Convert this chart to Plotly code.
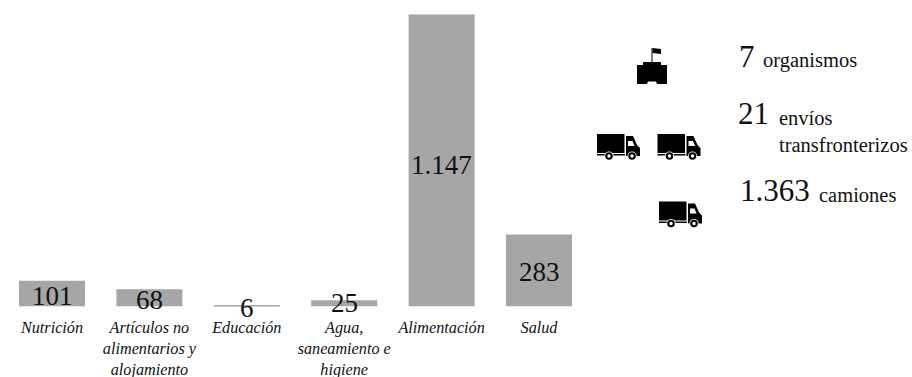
import plotly.graph_objects as go

W, H = 912, 377
BASE_Y = 306.5
PX_PER_UNIT = 0.2546
BAND = 97.4

categories = ["Nutrición", "Artículos no<br>alimentarios y<br>alojamiento", "Educación",
              "Agua,<br>saneamiento e<br>higiene", "Alimentación", "Salud"]
values = [101, 68, 6, 25, 1147, 283]
value_labels = ["101", "68", "6", "25", "1.147", "283"]
label_shift = [-2, -2, -2, 0, -5, -2]

summary_numbers = [("7", 737, 56), ("21", 736, 113), ("1.363", 738, 191)]
summary_words = [("organismos", 761, 60), ("envíos", 777, 118),
                 ("transfronterizos", 777, 145), ("camiones", 817, 195)]

INK = "#111111"
SERIF = "Liberation Serif"


def px(x):
    return x / W


def py(y):
    return 1 - y / H


def path(points):
    return "M " + " L ".join(f"{px(x):.5f},{py(y):.5f}" for x, y in points) + " Z"


def solid(points):
    return dict(type="path", path=path(points), xref="paper", yref="paper",
                fillcolor="black", line_width=0, layer="above")


def wheel(cx, cy):
    return [dict(type="circle", xref="paper", yref="paper",
                 x0=px(cx - r), x1=px(cx + r), y0=py(cy + r), y1=py(cy - r),
                 fillcolor=c, line_width=0) for r, c in ((4.6, "white"), (3.8, "black"), (1.7, "white"))]


def truck(x, y):
    parts = [
        solid([(x, y), (x + 27.5, y), (x + 27.5, y + 19), (x, y + 19)]),
        solid([(x, y + 20), (x + 28, y + 20), (x + 28, y + 21.5), (x, y + 21.5)]),
        solid([(x + 29, y + 2), (x + 36, y + 2), (x + 40, y + 11), (x + 43, y + 14), (x + 43, y + 22),
               (x + 29, y + 22)]),
        dict(type="path", xref="paper", yref="paper", fillcolor="white", line_width=0,
             path=path([(x + 31, y + 7), (x + 35.5, y + 7), (x + 37.5, y + 12), (x + 31, y + 12)])),
    ]
    return parts + wheel(x + 12, y + 22) + wheel(x + 35, y + 22)


def castle(x, y):
    return [
        solid([(x + 14.5, y - 14), (x + 15.5, y - 14), (x + 15.5, y), (x + 14.5, y)]),
        solid([(x + 15.5, y - 14), (x + 24, y - 13), (x + 24, y - 8), (x + 15.5, y - 9)]),
        solid([(x + 6, y), (x + 24, y), (x + 24, y + 3), (x + 30, y + 3), (x + 30, y + 22),
               (x + 20, y + 22), (x + 19, y + 19.5), (x + 11, y + 19.5), (x + 10, y + 22),
               (x, y + 22), (x, y + 3), (x + 6, y + 3)]),
    ]


fig = go.Figure(go.Bar(
    x=list(range(len(values))), y=values, width=66 / BAND,
    marker=dict(color="#a6a6a6", line_width=0), hoverinfo="skip",
))

annotations = [
    dict(x=i, y=v / 2, text=t, yshift=s, xref="x", yref="y", showarrow=False,
         font=dict(family=SERIF, size=27, color=INK))
    for i, (v, t, s) in enumerate(zip(values, value_labels, label_shift))
]
annotations += [
    dict(x=px(x), y=py(y), text=t, xref="paper", yref="paper", xanchor="left", yanchor="middle",
         showarrow=False, font=dict(family=SERIF, size=31, color=INK))
    for t, x, y in summary_numbers
]
annotations += [
    dict(x=px(x), y=py(y), text=t, xref="paper", yref="paper", xanchor="left", yanchor="middle",
         showarrow=False, font=dict(family=SERIF, size=20.5, color=INK))
    for t, x, y in summary_words
]

shapes = castle(637, 62) + truck(597, 134) + truck(657.5, 134) + truck(659, 201.5)

fig.update_layout(
    width=W, height=H, autosize=False, showlegend=False,
    paper_bgcolor="white", plot_bgcolor="white",
    margin=dict(l=0, r=0, t=0, b=0),
    xaxis=dict(range=[-52 / BAND, (W - 52) / BAND], tickmode="array",
               tickvals=list(range(len(categories))),
               ticktext=[f"<i>{c}</i>" for c in categories],
               tickangle=0, ticklen=0, ticks="", showline=False, showgrid=False, zeroline=False,
               automargin=False, ticklabelstandoff=9,
               tickfont=dict(family=SERIF, size=16.2, color=INK)),
    yaxis=dict(domain=[(H - BASE_Y) / H, 1], range=[0, BASE_Y / PX_PER_UNIT], visible=False),
    annotations=annotations, shapes=shapes,
)

fig.write_html("out.html", config=dict(displayModeBar=False))
